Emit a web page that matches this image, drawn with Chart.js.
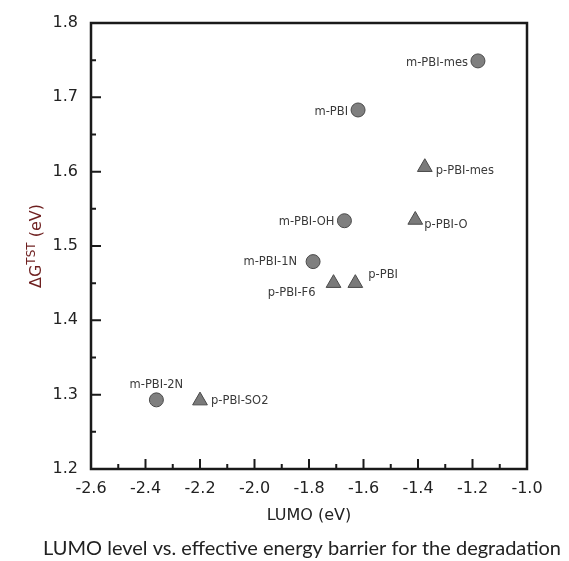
<!DOCTYPE html>
<html>
<head>
<meta charset="utf-8">
<script src="https://cdn.jsdelivr.net/npm/chart.js@4.4.1/dist/chart.umd.min.js"></script>
<style>
  body { margin: 0; background: #fff; }
  #wrap { width: 569px; height: 561px; position: relative; }
</style>
</head>
<body>
<div id="wrap"><canvas id="myChart"></canvas></div>
<script>
// meta-PBI (cercles)
const mNames = ['m-PBI-mes', 'm-PBI', 'm-PBI-OH', 'm-PBI-1N', 'm-PBI-2N'];
const mLumo = [-1.18, -1.62, -1.67, -1.785, -2.36];
const mBarrier = [1.749, 1.683, 1.534, 1.479, 1.293];

// para-PBI (triangles)
const pNames = ['p-PBI-mes', 'p-PBI-O', 'p-PBI', 'p-PBI-F6', 'p-PBI-SO2'];
const pLumo = [-1.375, -1.41, -1.63, -1.71, -2.20];
const pBarrier = [1.606, 1.535, 1.45, 1.45, 1.292];

// ticks
const xTickValues = [-2.6, -2.4, -2.2, -2.0, -1.8, -1.6, -1.4, -1.2, -1.0];
const xMinorTicks = [-2.5, -2.3, -2.1, -1.9, -1.7, -1.5, -1.3, -1.1];
const yTickValues = [1.2, 1.3, 1.4, 1.5, 1.6, 1.7, 1.8];
const yMinorTicks = [1.25, 1.35, 1.45, 1.55, 1.65, 1.75];

// position des etiquettes par rapport au point : [dx, dy, align]
const mLabelPos = [[-10, 2, 'right'], [-10, 2, 'right'], [-10, 1, 'right'], [-16, 0, 'right'], [0, -15, 'center']];
const pLabelPos = [[11, 4, 'left'], [9, 5, 'left'], [13, -8, 'left'], [-18, 10, 'right'], [11, 0, 'left']];

const axisFont = 'DejaVu Sans, Verdana, sans-serif';

const frame = {
  id: 'frame',
  beforeDatasetsDraw(chart) {
    const ctx = chart.ctx;
    const a = chart.chartArea;
    const x = chart.scales.x, y = chart.scales.y;
    ctx.save();
    ctx.strokeStyle = '#1a1a1a';
    ctx.lineWidth = 2.5;
    ctx.strokeRect(a.left, a.top, a.right - a.left, a.bottom - a.top);
    ctx.lineWidth = 2;
    ctx.beginPath();
    xTickValues.forEach(v => { const px = x.getPixelForValue(v); ctx.moveTo(px, a.bottom); ctx.lineTo(px, a.bottom - 10); });
    xMinorTicks.forEach(v => { const px = x.getPixelForValue(v); ctx.moveTo(px, a.bottom); ctx.lineTo(px, a.bottom - 5); });
    yTickValues.forEach(v => { const py = y.getPixelForValue(v); ctx.moveTo(a.left, py); ctx.lineTo(a.left + 10, py); });
    yMinorTicks.forEach(v => { const py = y.getPixelForValue(v); ctx.moveTo(a.left, py); ctx.lineTo(a.left + 5, py); });
    ctx.stroke();
    ctx.restore();
  },
  afterDatasetsDraw(chart) {
    const ctx = chart.ctx;
    const names = [mNames, pNames];
    const pos = [mLabelPos, pLabelPos];
    ctx.save();
    ctx.font = '11.5px ' + axisFont;
    ctx.fillStyle = '#3a3a3a';
    ctx.textBaseline = 'middle';
    chart.data.datasets.forEach((ds, di) => {
      chart.getDatasetMeta(di).data.forEach((pt, i) => {
        const p = pos[di][i];
        ctx.textAlign = p[2];
        ctx.fillText(names[di][i], pt.x + p[0], pt.y + p[1]);
      });
    });
    ctx.restore();
  },
  afterDraw(chart) {
    const ctx = chart.ctx;
    const a = chart.chartArea;
    ctx.save();
    // titre axe x
    ctx.fillStyle = '#222';
    ctx.font = '16px ' + axisFont;
    ctx.textAlign = 'center';
    ctx.textBaseline = 'middle';
    ctx.fillText('LUMO (eV)', (a.left + a.right) / 2, 516);

    // legende sous le graphique
    ctx.font = '20px Lato, "Open Sans", sans-serif';
    ctx.fillStyle = '#222';
    ctx.fillText('LUMO level vs. effective energy barrier for the degradation', 302, 549);

    // titre axe y : ΔG^TST (eV)
    const big = '16px ' + axisFont, small = '12px ' + axisFont;
    ctx.font = big;
    const w1 = ctx.measureText('ΔG').width;
    const w3 = ctx.measureText(' (eV)').width;
    ctx.font = small;
    const w2 = ctx.measureText('TST').width;
    const total = w1 + w2 + w3;
    ctx.translate(41, (a.top + a.bottom) / 2);
    ctx.rotate(-Math.PI / 2);
    ctx.fillStyle = '#6e1f1f';
    ctx.textAlign = 'left';
    ctx.textBaseline = 'alphabetic';
    let u = -total / 2;
    ctx.font = big;
    ctx.fillText('ΔG', u, 0);
    u += w1;
    ctx.font = small;
    ctx.fillText('TST', u, -6);
    u += w2;
    ctx.font = big;
    ctx.fillText(' (eV)', u, 0);
    ctx.restore();
  }
};

const ctx = document.getElementById('myChart');
const graphique = new Chart(ctx.getContext('2d'), {
  type: 'scatter',
  data: {
    datasets: [{
      label: 'm-PBI',
      data: mLumo.map((v, i) => ({ x: v, y: mBarrier[i] })),
      pointStyle: 'circle',
      pointRadius: 7,
      backgroundColor: '#7f7f7f',
      borderColor: '#4a4a4a',
      borderWidth: 1
    }, {
      label: 'p-PBI',
      data: pLumo.map((v, i) => ({ x: v, y: pBarrier[i] })),
      pointStyle: 'triangle',
      pointRadius: 8.5,
      backgroundColor: '#7a7a7a',
      borderColor: '#4a4a4a',
      borderWidth: 1
    }]
  },
  options: {
    responsive: true,
    maintainAspectRatio: false,
    animation: false,
    layout: { padding: { top: 23, right: 42, left: 0, bottom: 0 } },
    plugins: { legend: { display: false }, tooltip: { enabled: false } },
    scales: {
      x: {
        type: 'linear',
        min: -2.6,
        max: -1.0,
        grid: { display: false, drawTicks: false },
        border: { display: false },
        afterBuildTicks: s => { s.ticks = xTickValues.map(v => ({ value: v })); },
        afterFit: s => { s.height = 92; },
        ticks: {
          padding: 10,
          maxRotation: 0,
          color: '#222',
          font: { family: axisFont, size: 16 },
          callback: v => v.toFixed(1)
        }
      },
      y: {
        type: 'linear',
        min: 1.2,
        max: 1.8,
        grid: { display: false, drawTicks: false },
        border: { display: false },
        afterBuildTicks: s => { s.ticks = yTickValues.map(v => ({ value: v })); },
        afterFit: s => { s.width = 91; },
        ticks: {
          padding: 13,
          color: '#222',
          font: { family: axisFont, size: 16 },
          callback: v => v.toFixed(1)
        }
      }
    }
  },
  plugins: [frame]
});
</script>
</body>
</html>
